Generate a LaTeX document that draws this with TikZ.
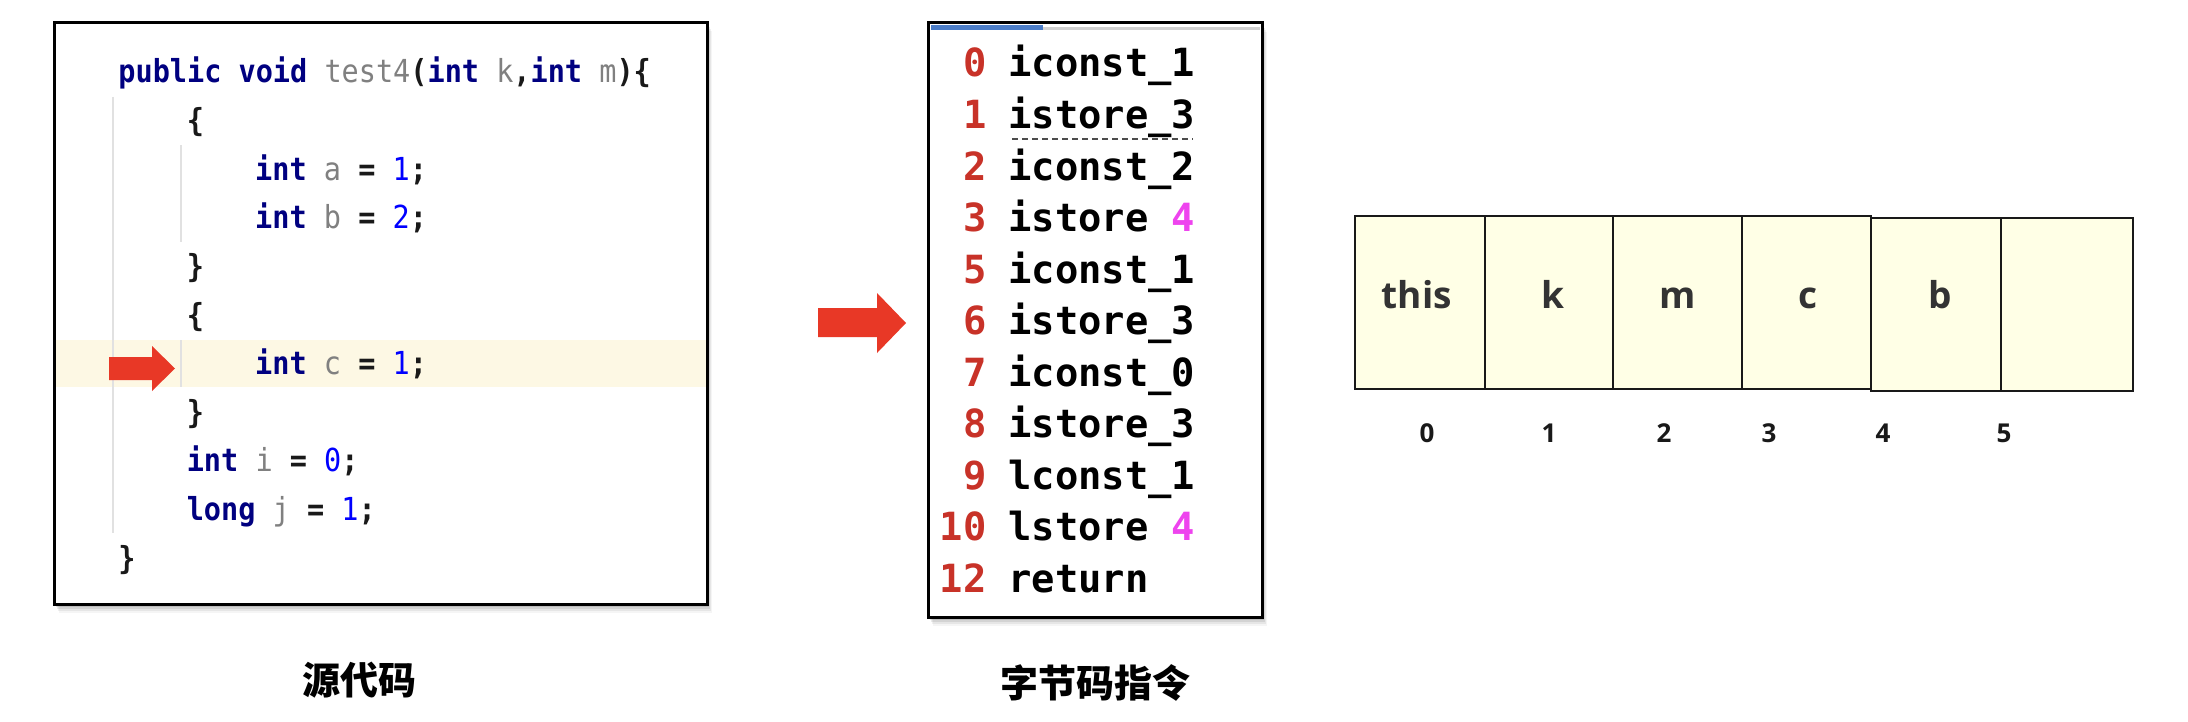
\documentclass[tikz,border=0pt]{standalone}
\usepackage{fontspec}
\newfontfamily\codefont[FakeStretch=0.9]{DejaVu Sans Mono}
\newfontfamily\bcfont{DejaVu Sans Mono}
\newfontfamily\cellfont{Open Sans}
\newfontfamily\cjkfont{Noto Sans CJK SC}
\definecolor{kwc}{RGB}{0,0,128}
\definecolor{idc}{RGB}{128,128,128}
\definecolor{numc}{RGB}{0,0,255}
\definecolor{bcnum}{RGB}{200,50,40}
\definecolor{bcmag}{RGB}{238,68,238}
\definecolor{arrowred}{RGB}{232,56,38}
\definecolor{hl}{RGB}{253,248,228}
\definecolor{cellfill}{RGB}{255,255,230}
\definecolor{guide}{RGB}{225,225,225}
\definecolor{tabblue}{RGB}{74,124,199}
\newcommand\kw[1]{\textcolor{kwc}{#1}}
\newcommand\idt[1]{\textcolor{idc}{\mdseries #1}}
\newcommand\cnum[1]{\textcolor{numc}{\mdseries #1}}
\newcommand\magtxt[1]{\textcolor{bcmag}{#1}}
\tikzset{
  codeline/.style={anchor=base west, inner sep=0, text=black!90, font=\codefont\bfseries\fontsize{15.85}{15.85}\selectfont},
  bcnumber/.style={anchor=base east, inner sep=0, text=bcnum, font=\bcfont\bfseries\fontsize{19.4}{19.4}\selectfont},
  bcinstr/.style={anchor=base west, inner sep=0, font=\bcfont\bfseries\fontsize{19.4}{19.4}\selectfont},
  panel/.style={draw=black, line width=1.5pt, fill=white},
  cellbox/.style={draw=black!90, line width=1pt, fill=cellfill, inner sep=0, minimum height=86.5pt},
  celltext/.style={anchor=base, inner sep=0, font=\cellfont\bfseries\fontsize{18.5}{18.5}\selectfont, text=black!80},
  idxtext/.style={anchor=base, inner sep=0, font=\cellfont\bfseries\fontsize{13}{13}\selectfont, text=black!90},
  caption/.style={inner sep=0, font=\cjkfont\bfseries\fontsize{19}{19}\selectfont},
  redarrow/.style={fill=arrowred, draw=none},
}
\begin{document}
\begin{tikzpicture}[x=0.5pt, y=-0.5pt]
\useasboundingbox (0,0) rectangle (2188,722);
\fill[white] (0,0) rectangle (2188,722);

% ---------- code panel ----------
\foreach \s/\o in {9/0.04,7/0.06,5/0.08,3/0.1}
  \fill[black, opacity=\o] (54+\s*0.6,22.5+\s) rectangle (707+\s*0.6,604+\s);
\draw[panel] (54,22.5) rectangle (707,604);
\fill[hl] (55.5,340) rectangle (705.5,387);
\draw[guide, line width=0.6pt] (113,97) -- (113,533);
\draw[guide, line width=0.6pt] (181,145) -- (181,242);
\draw[guide, line width=0.6pt] (181,340) -- (181,387);

\node[codeline] (c0) at (118,83) {\kw{public} \kw{void} \idt{test4}(\kw{int} \idt{k},\kw{int} \idt{m})\{};
\node[codeline] (c1) at (186.4,131.6) {\{};
\node[codeline] (c2) at (254.8,180.2) {\kw{int} \idt{a} = \cnum{1};};
\node[codeline] (c3) at (254.8,228.8) {\kw{int} \idt{b} = \cnum{2};};
\node[codeline] (c4) at (186.4,277.4) {\}};
\node[codeline] (c5) at (186.4,326) {\{};
\node[codeline] (c6) at (254.8,374.6) {\kw{int} \idt{c} = \cnum{1};};
\node[codeline] (c7) at (186.4,423.2) {\}};
\node[codeline] (c8) at (186.4,471.8) {\kw{int} \idt{i} = \cnum{0};};
\node[codeline] (c9) at (186.4,520.4) {\kw{long} \idt{j} = \cnum{1};};
\node[codeline] (c10) at (118,569) {\}};

\fill[redarrow] (109,357) -- (152,357) -- (152,346) -- (175,368.5) -- (152,391) -- (152,380) -- (109,380) -- cycle;

% ---------- big arrow ----------
\fill[redarrow] (818,308) -- (877,308) -- (877,293) -- (906,323) -- (877,353) -- (877,337) -- (818,337) -- cycle;

% ---------- bytecode panel ----------
\foreach \s/\o in {9/0.04,7/0.06,5/0.08,3/0.1}
  \fill[black, opacity=\o] (928+\s*0.6,23+\s) rectangle (1262+\s*0.6,617+\s);
\draw[panel] (928,23) rectangle (1262,617);
\fill[black!18] (1043,27) rectangle (1259.5,30);
\fill[tabblue] (930.5,25) rectangle (1043,30);

\node[bcnumber] (n0) at (987,77) {0};    \node[bcinstr] (b0) at (1008,77) {iconst\_1};
\node[bcnumber] (n1) at (987,128.5) {1}; \node[bcinstr] (b1) at (1008,128.5) {istore\_3};
\node[bcnumber] (n2) at (987,180) {2};   \node[bcinstr] (b2) at (1008,180) {iconst\_2};
\node[bcnumber] (n3) at (987,231.5) {3}; \node[bcinstr] (b3) at (1008,231.5) {istore \magtxt{4}};
\node[bcnumber] (n4) at (987,283) {5};   \node[bcinstr] (b4) at (1008,283) {iconst\_1};
\node[bcnumber] (n5) at (987,334.5) {6}; \node[bcinstr] (b5) at (1008,334.5) {istore\_3};
\node[bcnumber] (n6) at (987,386) {7};   \node[bcinstr] (b6) at (1008,386) {iconst\_0};
\node[bcnumber] (n7) at (987,437.5) {8}; \node[bcinstr] (b7) at (1008,437.5) {istore\_3};
\node[bcnumber] (n8) at (987,489) {9};   \node[bcinstr] (b8) at (1008,489) {lconst\_1};
\node[bcnumber] (n9) at (987,540.5) {10};\node[bcinstr] (b9) at (1008,540.5) {lstore \magtxt{4}};
\node[bcnumber] (n10) at (987,592) {12}; \node[bcinstr] (b10) at (1008,592) {return};
\draw[black!70, dashed, dash pattern=on 3pt off 2pt, line width=0.6pt] (1012,139) -- (1193,139);

% ---------- local variable table ----------
\node[cellbox, minimum width=65pt] (cell0) at (1420,302.5) {};
\node[cellbox, minimum width=64.15pt] (cell1) at (1549,302.5) {};
\node[cellbox, minimum width=64.2pt] (cell2) at (1677.5,302.5) {};
\node[cellbox, minimum width=64.65pt] (cell3) at (1806.3,302.5) {};
\node[cellbox, minimum width=65pt] (cell4) at (1936,304.2) {};
\node[cellbox, minimum width=66pt] (cell5) at (2067,304.2) {};
\node[celltext] (t0) at (1416.7,308) {this};
\node[celltext] (t1) at (1553,308) {k};
\node[celltext] (t2) at (1678,308) {m};
\node[celltext] (t3) at (1808,308) {c};
\node[celltext] (t4) at (1940,308.5) {b};

\node[idxtext] (i0) at (1427,442) {0};
\node[idxtext] (i1) at (1549,442) {1};
\node[idxtext] (i2) at (1664,442) {2};
\node[idxtext] (i3) at (1769,442) {3};
\node[idxtext] (i4) at (1883,442) {4};
\node[idxtext] (i5) at (2004,442) {5};

% ---------- captions ----------
\node[caption] (cap1) at (359,680) {源代码};
\node[caption] (cap2) at (1095,683) {字节码指令};
\end{tikzpicture}
\end{document}
